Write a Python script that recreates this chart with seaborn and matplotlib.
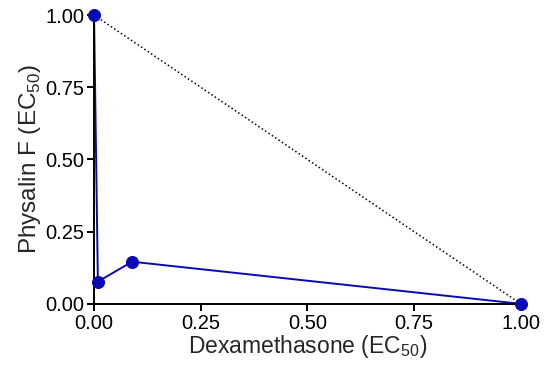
import matplotlib
matplotlib.use("Agg")
import matplotlib.pyplot as plt
import seaborn as sns
import pandas as pd

# Isobologram data (fractions of EC50)
dexa = [0.0, 0.009, 0.089, 1.0]
physalin = [1.0, 0.077, 0.146, 0.0]
additive_x = [0.0, 1.0]
additive_y = [1.0, 0.0]
tick_vals = [0, 0.25, 0.5, 0.75, 1.0]
tick_labels = ["0.00", "0.25", "0.50", "0.75", "1.00"]

df = pd.DataFrame({"dexa": dexa, "physalin": physalin})
blue = "#0a0ab4"

sns.set_style("ticks")
plt.rcParams["font.family"] = ["Liberation Sans", "DejaVu Sans"]
plt.rcParams["mathtext.fontset"] = "custom"
plt.rcParams["mathtext.rm"] = "Liberation Sans"

fig = plt.figure(figsize=(5.5, 3.77), dpi=100)
ax = fig.add_axes([0.171, 0.194, 0.776, 0.766])

# linha de aditividade
ax.plot(additive_x, additive_y, color="black", linestyle=":", linewidth=1.1, clip_on=False)

sns.lineplot(data=df, x="dexa", y="physalin", sort=False, color=blue,
             linewidth=1.4, ax=ax, clip_on=False)
sns.scatterplot(data=df, x="dexa", y="physalin", color=blue, s=75,
                edgecolor=blue, ax=ax, clip_on=False, zorder=5)

ax.set_xlim(0, 1)
ax.set_ylim(0, 1)
ax.set_xticks(tick_vals)
ax.set_yticks(tick_vals)
ax.set_xticklabels(tick_labels)
ax.set_yticklabels(tick_labels)
ax.tick_params(labelsize=14.5, length=5, width=1.4, colors="black", pad=2)
for s in ["left", "bottom"]:
    ax.spines[s].set_linewidth(1.4)
    ax.spines[s].set_color("black")
sns.despine(ax=ax)

ax.set_xlabel(r"Dexamethasone (EC$_{50}$)", fontsize=16.5, labelpad=0)
ax.set_ylabel(r"Physalin F (EC$_{50}$)", fontsize=17.5, labelpad=2)

plt.savefig("out.png", dpi=100)
